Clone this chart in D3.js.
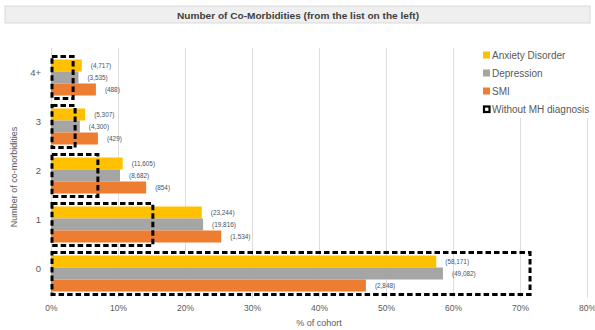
<!DOCTYPE html>
<html>
<head>
<meta charset="utf-8">
<script src="https://cdn.jsdelivr.net/npm/d3@7"></script>
<style>
  html, body { margin: 0; padding: 0; background: #ffffff; }
  svg { display: block; font-family: "Liberation Sans", "DejaVu Sans", sans-serif; }
</style>
</head>
<body>
<svg id="chart" width="595" height="330"></svg>
<script>
// ---- data ----
const categories = ["4+", "3", "2", "1", "0"];
const seriesNames = ["Anxiety Disorder", "Depression", "SMI", "Without MH diagnosis"];
const anxietyPct = [4.6, 5.1, 10.7, 22.5, 57.5];
const depressionPct = [4.1, 4.3, 10.3, 22.7, 58.5];
const smiPct = [6.7, 7.0, 14.2, 25.4, 47.0];
const withoutMHPct = [3.3, 3.6, 7.0, 15.2, 71.5];
const anxietyCounts = ["(4,717)", "(5,307)", "(11,605)", "(23,244)", "(58,171)"];
const depressionCounts = ["(3,535)", "(4,300)", "(8,682)", "(19,816)", "(49,082)"];
const smiCounts = ["(488)", "(429)", "(854)", "(1,534)", "(2,848)"];
const xTicks = [0, 10, 20, 30, 40, 50, 60, 70, 80];
const colors = ["#FFC000", "#A5A5A5", "#ED7D31"];

const svg = d3.select("#chart");

// title bar
svg.append("rect").attr("x", 5).attr("y", 6).attr("width", 585).attr("height", 17)
  .attr("fill", "#efefef").attr("stroke", "#d9d9d9").attr("stroke-width", 1);
svg.append("text").attr("x", 298).attr("y", 18.5).attr("text-anchor", "middle")
  .attr("font-size", 9.5).attr("font-weight", "bold").attr("fill", "#404040")
  .attr("textLength", 242).attr("lengthAdjust", "spacingAndGlyphs")
  .text("Number of Co-Morbidities (from the list on the left)");

const x = d3.scaleLinear().domain([0, 80]).range([51, 587]);
const y = d3.scaleBand().domain(categories).range([53, 298]);

// gridlines
const grid = svg.append("g").attr("transform", "translate(0,298)")
  .call(d3.axisBottom(x).tickValues(xTicks).tickSize(-250).tickFormat(""));
grid.select(".domain").remove();
grid.selectAll("line").attr("stroke", "#dedede").attr("stroke-width", 1);

// x tick labels
const xAxis = svg.append("g").attr("transform", "translate(0,302)")
  .call(d3.axisBottom(x).tickValues(xTicks).tickSize(0).tickFormat(d => d + "%"));
xAxis.select(".domain").remove();
xAxis.selectAll("text").attr("fill", "#595959").attr("font-size", 8.5)
  .attr("font-family", "Liberation Sans, sans-serif");

// y tick labels
const yAxis = svg.append("g").attr("transform", "translate(45,0)")
  .call(d3.axisLeft(y).tickSize(0).tickPadding(4));
yAxis.select(".domain").remove();
yAxis.selectAll("text").attr("fill", "#595959").attr("font-size", 9.5)
  .attr("font-family", "Liberation Sans, sans-serif").attr("dy", "-0.15em");

// axis titles
svg.append("text").attr("x", 319).attr("y", 326).attr("text-anchor", "middle")
  .attr("font-size", 9).attr("fill", "#595959").text("% of cohort");
svg.append("text").attr("transform", "translate(17,177) rotate(-90)")
  .attr("text-anchor", "middle").attr("font-size", 9).attr("fill", "#595959")
  .text("Number of co-morbidities");

// bars
const barH = 12;
const series = [anxietyPct, depressionPct, smiPct];
const counts = [anxietyCounts, depressionCounts, smiCounts];
series.forEach((vals, si) => {
  const g = svg.append("g");
  g.selectAll("rect").data(categories).join("rect")
    .attr("x", x(0))
    .attr("y", (c) => y(c) + y.bandwidth() / 2 - 1.5 * barH + si * barH)
    .attr("width", (c, i) => x(vals[i]) - x(0))
    .attr("height", barH)
    .attr("fill", colors[si]);
  g.selectAll("text").data(categories).join("text")
    .attr("x", (c, i) => x(vals[i]) + 9)
    .attr("y", (c) => y(c) + y.bandwidth() / 2 - 1.5 * barH + si * barH + barH / 2 + 2)
    .attr("font-size", 6.4).attr("fill", "#44546A")
    .text((c, i) => counts[si][i]);
});

// Without MH diagnosis boxes (dashed, no fill)
svg.append("g").selectAll("rect").data(categories).join("rect")
  .attr("x", x(0) + 1)
  .attr("y", (c) => y(c) + y.bandwidth() / 2 - 21)
  .attr("width", (c, i) => x(withoutMHPct[i]) - x(0) - 1)
  .attr("height", 42)
  .attr("fill", "none").attr("stroke", "#000").attr("stroke-width", 3)
  .attr("stroke-dasharray", "5.5,3");

// legend
svg.append("rect").attr("x", 464).attr("y", 44).attr("width", 131).attr("height", 74).attr("fill", "#fff");
const legendY = [55, 73, 91, 109];
const leg = svg.append("g");
seriesNames.forEach((name, i) => {
  if (i < 3) {
    leg.append("rect").attr("x", 483).attr("y", legendY[i] - 3.5).attr("width", 7).attr("height", 7)
      .attr("fill", colors[i]);
  } else {
    leg.append("rect").attr("x", 484).attr("y", legendY[i] - 2.5).attr("width", 5.5).attr("height", 5.5)
      .attr("fill", "#fff").attr("stroke", "#000").attr("stroke-width", 2.2);
  }
  leg.append("text").attr("x", 492).attr("y", legendY[i] + 3.5)
    .attr("font-size", 10).attr("fill", "#595959").text(name);
});
</script>
</body>
</html>
